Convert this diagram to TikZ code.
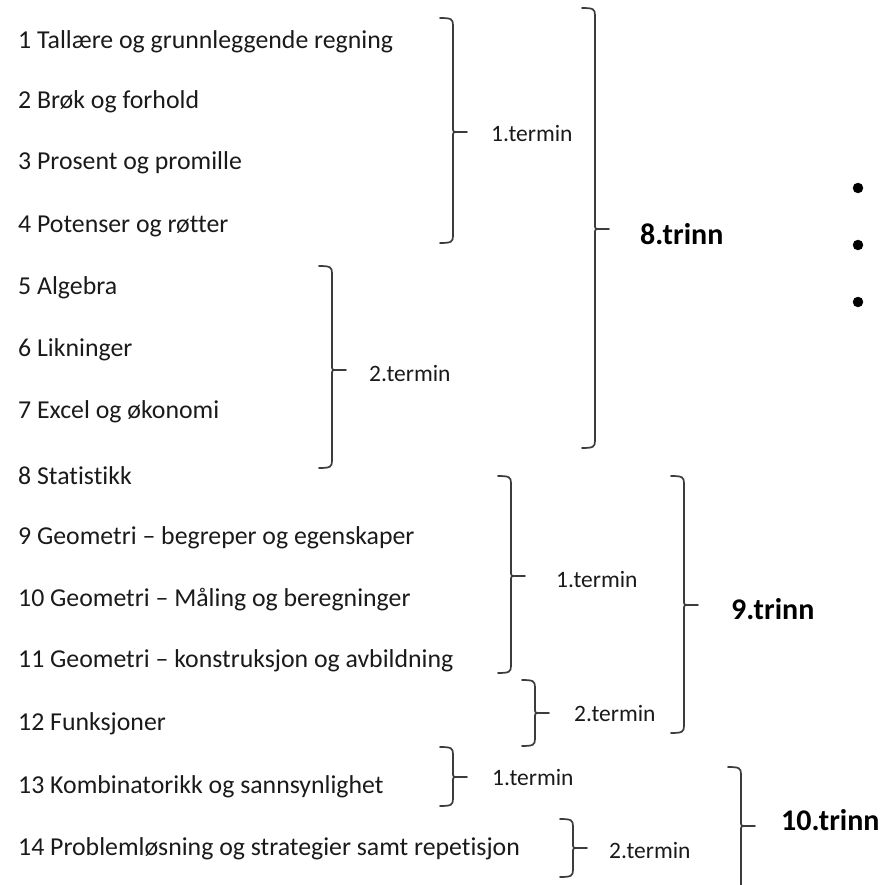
\documentclass[tikz,border=0pt]{standalone}
\usepackage{fontspec}
\setmainfont{Carlito}[RawFeature={-liga;-clig;-calt;-dlig}]
\definecolor{tekst}{HTML}{1A1A1A}
\definecolor{strek}{HTML}{3C3C3C}
% hoyre klamme: x, topp, midt, bunn
\newcommand{\klamme}[4]{%
  \draw[klammestil] (#1-13,#2) .. controls (#1-2,#2) and (#1,#2+1) .. (#1,#2+7)
    -- (#1,#3-5) .. controls (#1,#3) .. (#1+5,#3) -- (#1+14,#3);
  \draw[klammestil] (#1+5,#3) .. controls (#1,#3) .. (#1,#3+5)
    -- (#1,#4-7) .. controls (#1,#4-1) and (#1-2,#4) .. (#1-13,#4);
}
\begin{document}
\begin{tikzpicture}[x=1pt, y=-1pt,
    emne/.style={anchor=west, inner sep=0pt, text=tekst, font=\fontsize{25.8}{30}\selectfont},
    termin/.style={anchor=west, inner sep=0pt, text=tekst, font=\fontsize{23.5}{28}\selectfont},
    trinn/.style={anchor=west, inner sep=0pt, text=black, font=\fontsize{30}{36}\selectfont\bfseries},
    klammestil/.style={strek, line width=1.7pt, line cap=round}]
  \useasboundingbox (0,0) rectangle (887,885);

  % emner
  \node[emne] (e1) at (18,42) {1 Tallære og grunnleggende regning};
  \node[emne] (e2) at (18,102) {2 Brøk og forhold};
  \node[emne] (e3) at (18,163) {3 Prosent og promille};
  \node[emne] (e4) at (18,226) {4 Potenser og røtter};
  \node[emne] (e5) at (18,288) {5 Algebra};
  \node[emne] (e6) at (18,350) {6 Likninger};
  \node[emne] (e7) at (18,412) {7 Excel og økonomi};
  \node[emne] (e8) at (18,476) {8 Statistikk};
  \node[emne] (e9) at (18,538) {9 Geometri -- begreper og egenskaper};
  \node[emne] (e10) at (18,600) {10 Geometri -- Måling og beregninger};
  \node[emne] (e11) at (18,661) {11 Geometri -- konstruksjon og avbildning};
  \node[emne] (e12) at (18,724) {12 Funksjoner};
  \node[emne] (e13) at (18,787) {13 Kombinatorikk og sannsynlighet};
  \node[emne] (e14) at (18,849) {14 Problemløsning og strategier samt repetisjon};

  % 8.trinn
  \klamme{453}{18}{132}{243}
  \node[termin] (t8a) at (491,134) {1.termin};
  \klamme{332}{266}{370}{468}
  \node[termin] (t8b) at (369,374) {2.termin};
  \klamme{595}{8}{229}{448}
  \node[trinn] (tr8) at (640,234) {8.trinn};

  % 9.trinn
  \klamme{511}{476}{576}{673}
  \node[termin] (t9a) at (556,580) {1.termin};
  \klamme{535}{680}{713}{746}
  \node[termin] (t9b) at (574,714) {2.termin};
  \klamme{684}{476}{605}{733}
  \node[trinn] (tr9) at (731,609) {9.trinn};

  % 10.trinn
  \klamme{453}{747}{777}{806}
  \node[termin] (t10a) at (492,778) {1.termin};
  \klamme{573}{819}{848}{877}
  \node[termin] (t10b) at (609,851) {2.termin};
  \klamme{741}{767}{826}{895}
  \node[trinn] (tr10) at (781,820) {10.trinn};

  % punkter
  \filldraw[black] (858,188) circle (5pt);
  \filldraw[black] (858,245) circle (5pt);
  \filldraw[black] (858,302) circle (5pt);
\end{tikzpicture}
\end{document}
